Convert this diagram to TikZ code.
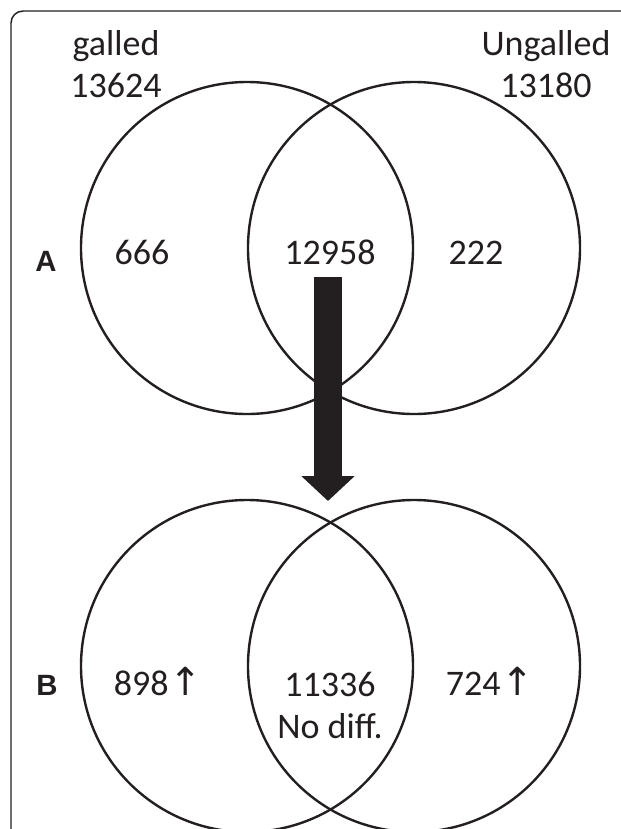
\documentclass[tikz,border=0pt]{standalone}
\usepackage{fontspec}
\setmainfont{Carlito}
\newfontfamily\panelfont{Liberation Sans}
\newfontfamily\arrowfont{DejaVu Sans}
\usetikzlibrary{arrows.meta}
\definecolor{ink}{RGB}{35,31,32}
\newcommand{\incr}{\kern1pt{\arrowfont\fontsize{29}{30}\selectfont ↑}}
\begin{document}
\begin{tikzpicture}[x=0.75pt,y=-0.75pt,
        set/.style={draw=ink, line width=1.8pt, circle, minimum size=249pt, inner sep=0pt},
        count/.style={font=\fontsize{27}{31.5}\selectfont, text=ink, anchor=base, align=center, inner sep=0pt},
        panel/.style={font=\panelfont\bfseries\fontsize{22}{26}\selectfont, text=ink, anchor=base, inner sep=0pt},
        fat/.style={draw=ink, line width=21pt, -{Triangle[width=39pt,length=18.75pt]}}]
    \useasboundingbox (0,0) rectangle (621,829);
    \clip (0,0) rectangle (621,829);
    \draw[ink, line width=1.1pt, rounded corners=9pt] (11,11) rectangle (660,870);
    \node[set] at (247,248) (gallA) {};
    \node[set] at (414,248) (ungallA) {};
    \node[set] at (247,666) (gallB) {};
    \node[set] at (414,666) (ungallB) {};
    \coordinate (arrTop) at (328,277);
    \coordinate (arrTip) at (328,501);
    \draw[fat] (arrTop) -- (arrTip);
    \node[count] at (116,97) (gallTitle) {galled\\13624};
    \node[count] at (546,97) (ungallTitle) {Ungalled\\13180};
    \node[panel] at (46,271) (panelA) {A};
    \node[count] at (142,264) (onlyGallA) {666};
    \node[count] at (330,264) (bothA) {12958};
    \node[count] at (476,264) (onlyUngallA) {222};
    \node[panel] at (47,695) (panelB) {B};
    \node[count] at (158,695) (upGall) {898\incr};
    \node[count] at (330,738) (bothB) {11336\\No diff.};
    \node[count] at (490,695) (upUngall) {724\incr};
\end{tikzpicture}
\end{document}
